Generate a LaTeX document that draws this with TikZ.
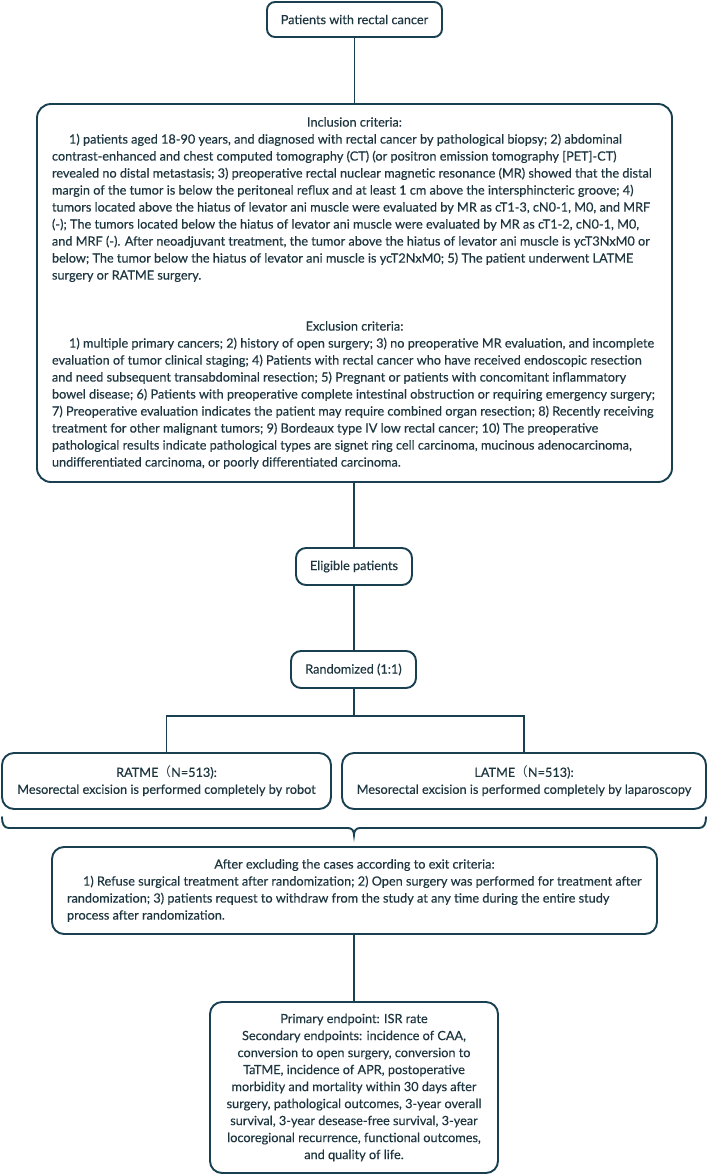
\documentclass[tikz,border=0pt]{standalone}
\usepackage{fontspec}
\setmainfont{Lato}[FakeBold=0.3]
\newfontfamily\cjk{Noto Sans CJK SC}
\definecolor{linecol}{RGB}{24,64,80}
\definecolor{textcol}{RGB}{30,54,64}
\tikzset{
  box/.style={draw=linecol, line width=1.9pt, rounded corners=10pt, fill=white,
    text=textcol, font=\fontsize{12.7}{17}\selectfont, inner sep=0pt, align=center},
  para/.style={box, align=none, execute at begin node={\parindent=0pt\parskip=0pt}},
  conn/.style={draw=linecol, line width=1.9pt},
}
\begin{document}
\begin{tikzpicture}[x=1pt,y=-1pt]
\useasboundingbox (0,0) rectangle (708,1176);
\fill[white] (0,0) rectangle (708,1176);

\node[box, rounded corners=8pt, minimum width=175pt, minimum height=35pt] (top) at (354.5,19.5) {Patients with rectal cancer};

\node[para, rounded corners=14pt, minimum width=635pt, minimum height=378pt, text width=605pt] (incl) at (354.5,293) {%
{\centering Inclusion criteria:\par}
\raggedright
\hspace*{17pt}\mbox{1) patients aged 18-90 years, and diagnosed with rectal cancer by pathological biopsy; 2) abdominal}\\
\mbox{contrast-enhanced and chest computed tomography (CT) (or positron emission tomography [PET]-CT)}\\
\mbox{revealed no distal metastasis; 3) preoperative rectal nuclear magnetic resonance (MR) showed that the distal}\\
\mbox{margin of the tumor is below the peritoneal reflux and at least 1 cm above the intersphincteric groove; 4)}\\
\mbox{tumors located above the hiatus of levator ani muscle were evaluated by MR as cT1-3, cN0-1, M0, and MRF}\\
\mbox{(-); The tumors located below the hiatus of levator ani muscle were evaluated by MR as cT1-2, cN0-1, M0,}\\
\mbox{and MRF (-). After neoadjuvant treatment, the tumor above the hiatus of levator ani muscle is ycT3NxM0 or}\\
\mbox{below; The tumor below the hiatus of levator ani muscle is ycT2NxM0; 5) The patient underwent LATME}\\
\mbox{surgery or RATME surgery.}\par
\vspace{34pt}
{\centering Exclusion criteria:\par}
\raggedright
\hspace*{17pt}\mbox{1) multiple primary cancers; 2) history of open surgery; 3) no preoperative MR evaluation, and incomplete}\\
\mbox{evaluation of tumor clinical staging; 4) Patients with rectal cancer who have received endoscopic resection}\\
\mbox{and need subsequent transabdominal resection; 5) Pregnant or patients with concomitant inflammatory}\\
\mbox{bowel disease; 6) Patients with preoperative complete intestinal obstruction or requiring emergency surgery;}\\
\mbox{7) Preoperative evaluation indicates the patient may require combined organ resection; 8) Recently receiving}\\
\mbox{treatment for other malignant tumors; 9) Bordeaux type IV low rectal cancer; 10) The preoperative}\\
\mbox{pathological results indicate pathological types are signet ring cell carcinoma, mucinous adenocarcinoma,}\\
\mbox{undifferentiated carcinoma, or poorly differentiated carcinoma.}\par};

\node[box, minimum width=116pt, minimum height=37pt] (elig) at (354,566.5) {Eligible patients};
\node[box, minimum width=125pt, minimum height=37pt] (rand) at (353.5,669.5) {Randomized (1:1)};

\node[box, rounded corners=12pt, minimum width=329pt, minimum height=56pt] (ratme) at (166.5,781) {RATME{\cjk （}N=513):\\Mesorectal excision is performed completely by robot};
\node[box, rounded corners=12pt, minimum width=364pt, minimum height=56pt] (latme) at (524,781) {LATME{\cjk （}N=513):\\Mesorectal excision is performed completely by laparoscopy};

\node[para, rounded corners=12pt, minimum width=605pt, minimum height=87pt, text width=575pt] (exit) at (354.5,890.5) {%
{\centering After excluding the cases according to exit criteria:\par}
\raggedright
\hspace*{16pt}\mbox{1) Refuse surgical treatment after randomization; 2) Open surgery was performed for treatment after}\\
\mbox{randomization; 3) patients request to withdraw from the study at any time during the entire study}\\
\mbox{process after randomization.}\par};

\node[box, rounded corners=12pt, minimum width=288pt, minimum height=171pt] (endp) at (354,1087.5) {Primary endpoint: ISR rate\\
Secondary endpoints: incidence of CAA,\\
conversion to open surgery, conversion to\\
TaTME, incidence of APR, postoperative\\
morbidity and mortality within 30 days after\\
surgery, pathological outcomes, 3-year overall\\
survival, 3-year desease-free survival, 3-year\\
locoregional recurrence, functional outcomes,\\
and quality of life.};

\coordinate (split) at (354,716);
\coordinate (tip) at (354,835);

\draw[conn] (top.south) -- (incl.north -| top.south);
\draw[conn] (incl.south -| elig.north) -- (elig.north);
\draw[conn] (elig.south) -- (rand.north -| elig.south);
\draw[conn] (rand.south -| split) -- (split);
\draw[conn] (ratme.north) |- (split) -| (latme.north);
\draw[conn] (exit.south -| endp.north) -- (endp.north);

% brace under the two arms
\draw[conn, line cap=round] (2,817) .. controls (2,824) and (4,828) .. (9,828) -- (348,828)
  .. controls (352,828) and (354,831) .. (tip) .. controls (354,831) and (356,828) .. (360,828) -- (699,828)
  .. controls (704,828) and (706,824) .. (706,817);
\end{tikzpicture}
\end{document}
